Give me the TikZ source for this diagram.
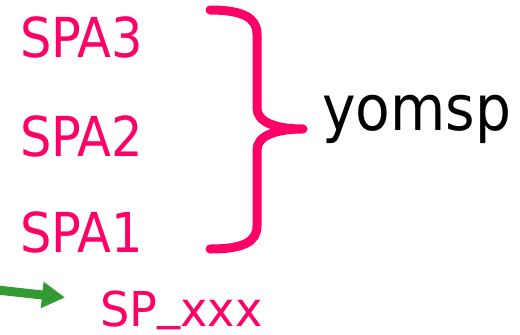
\documentclass[tikz,border=0pt]{standalone}
\usepackage{fontspec}
\usetikzlibrary{arrows.meta}
\newfontfamily\labelfont{DejaVu Sans Condensed}
\newfontfamily\widelabelfont[FakeStretch=1.07]{DejaVu Sans Condensed}
\definecolor{spapink}{RGB}{255,0,102}
\definecolor{arrowgreen}{RGB}{51,153,51}
\begin{document}
\begin{tikzpicture}[x=1pt,y=-1pt,
  spalabel/.style={inner sep=0pt,anchor=base west,text=spapink,font=\labelfont\fontsize{55}{60}\selectfont},
  sublabel/.style={inner sep=0pt,anchor=base west,text=spapink,font=\widelabelfont\fontsize{48}{52}\selectfont},
  grouplabel/.style={inner sep=0pt,anchor=base west,text=black,font=\labelfont\fontsize{63}{68}\selectfont},
  bracestroke/.style={draw=spapink,line width=9pt,line cap=round,line join=round},
  greenarrow/.style={draw=arrowgreen,line width=9pt,-{Triangle[length=23pt,width=25pt]}}]
\useasboundingbox (0,0) rectangle (520,335);

% the three SPA fields
\node[spalabel] (spa3) at (20,57.7) {SPA3};
\node[spalabel] (spa2) at (20,156.2) {SPA2};
\node[spalabel] (spa1) at (20,252.7) {SPA1};

% brace grouping the fields
\coordinate (tip) at (303,129);
\path[bracestroke] (210,10) .. controls (243,10) and (257,18) .. (257,34)
  -- (257,108) .. controls (257,122) and (275,129) .. (tip)
  .. controls (275,129) and (257,136) .. (257,150)
  -- (257,226) .. controls (257,242) and (243,249) .. (210,249);

\node[grouplabel] (yomsp) at (322,130.7) {yomsp};

% incoming arrow and the sub-field (underscore set a little higher)
\node[sublabel] (spx) at (100,326) {SP\raisebox{8pt}{\_}xxx};
\coordinate (arrowstart) at (-3,290);
\coordinate (arrowend) at (65,297.5);
\draw[greenarrow] (arrowstart) -- (arrowend);
\end{tikzpicture}
\end{document}
